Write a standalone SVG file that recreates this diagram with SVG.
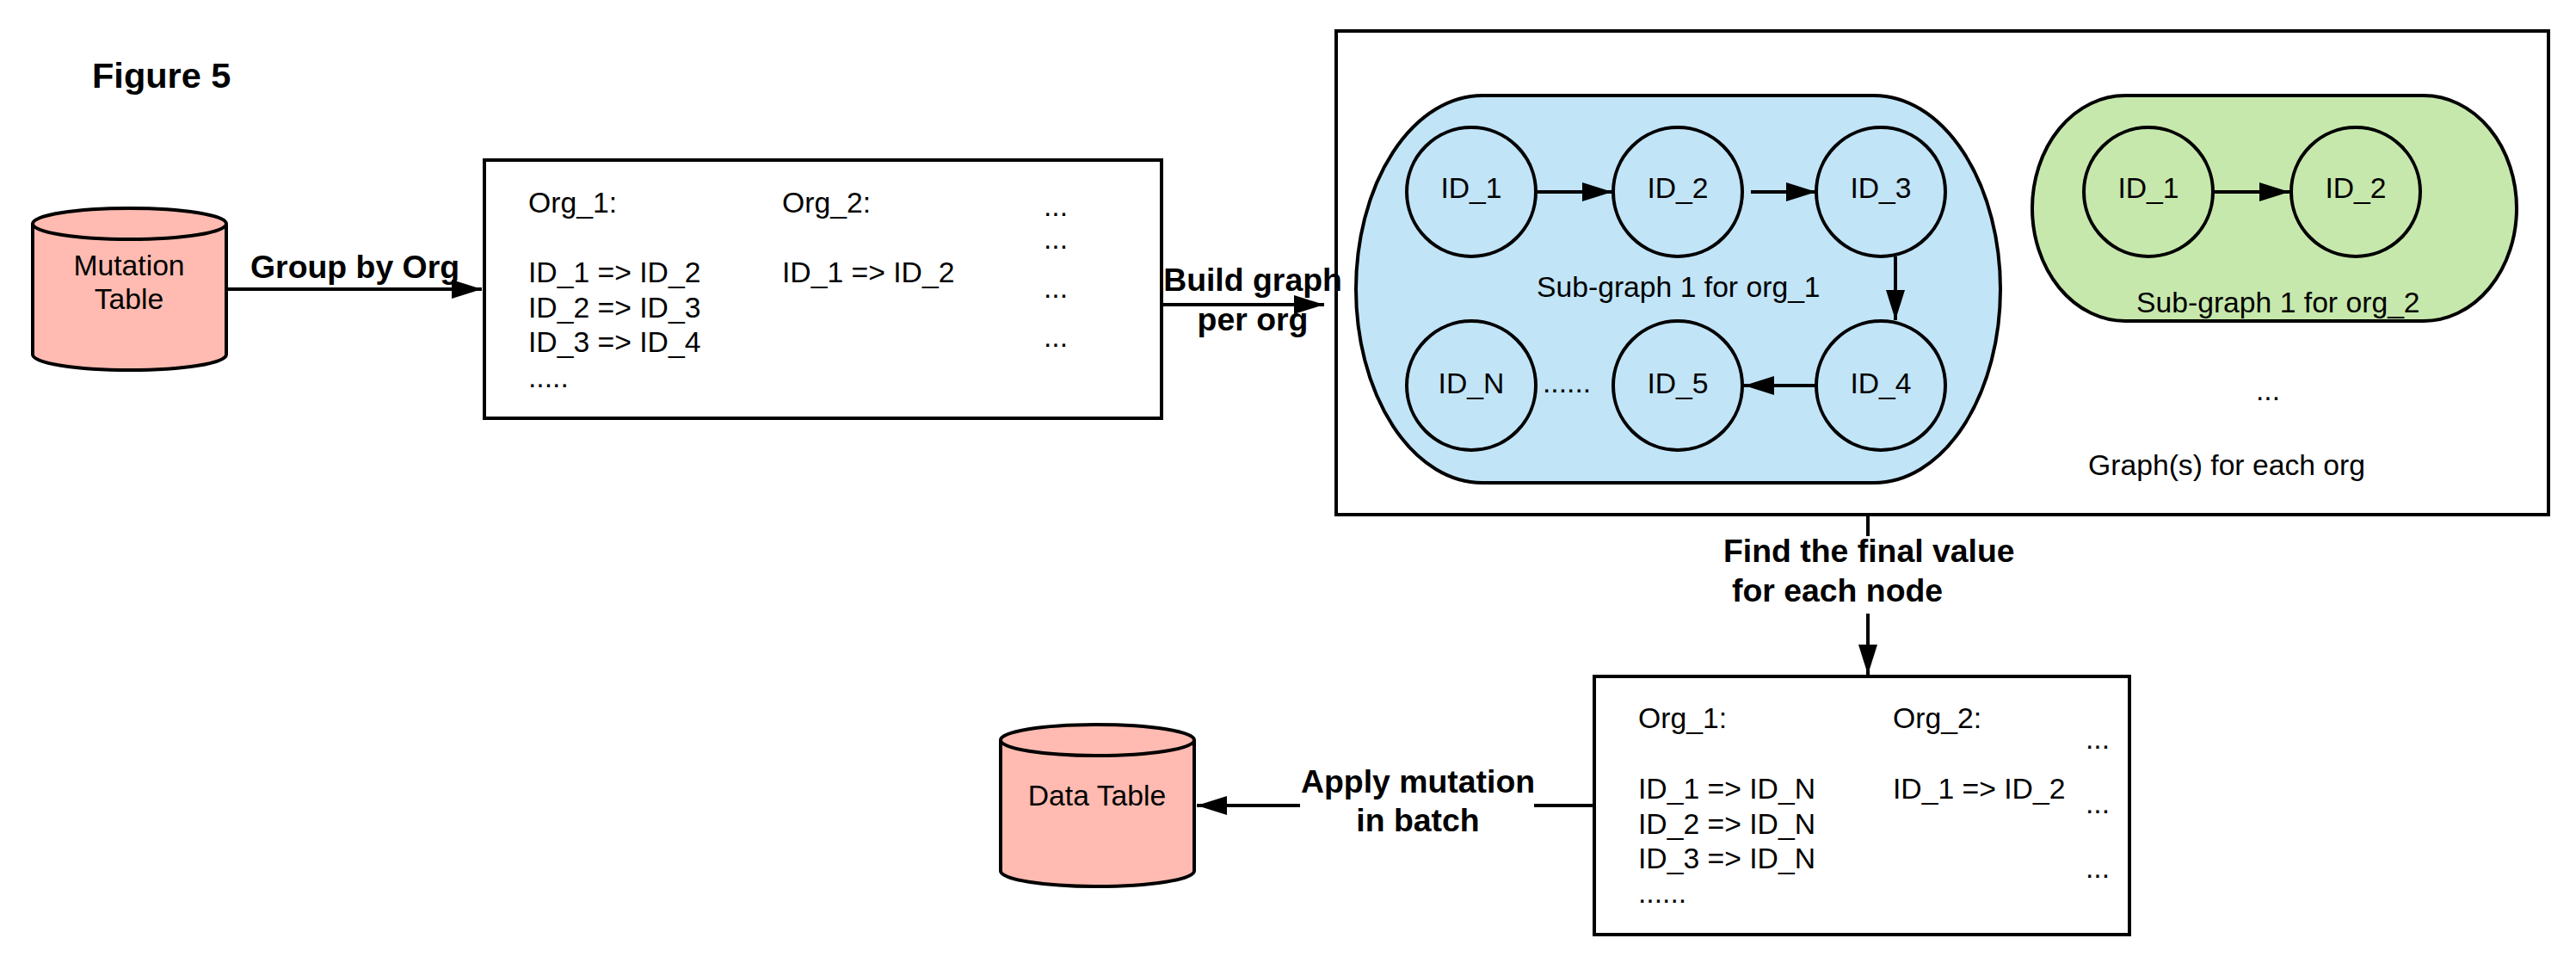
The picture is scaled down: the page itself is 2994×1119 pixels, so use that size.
<svg xmlns="http://www.w3.org/2000/svg" width="2994" height="1119" viewBox="0 0 2994 1119">
<style>
text{font-family:"Liberation Sans",Arial,sans-serif;font-size:33.700px;fill:#000}
.b{font-weight:bold;font-size:37.400px}
.m{text-anchor:middle}
.box{fill:#fff;stroke:#000;stroke-width:4}
.c{fill:#ffbbb1;stroke:#000;stroke-width:4}
.n{stroke:#000;stroke-width:4}
.blue{fill:#c1e4f7}
.green{fill:#c7e8ac}
.l{fill:none;stroke:#000;stroke-width:4}
</style>
<defs>
<marker id="a" markerUnits="userSpaceOnUse" markerWidth="36" markerHeight="24" refX="35" refY="12" orient="auto"><path d="M0 1L35 12L0 23Z" fill="#000"/></marker>
</defs>
<g id="title"><text x="107" y="102" style="font-weight:bold;font-size:41.500px">Figure 5</text></g>
<g id="mutation-table">
<path class="c" d="M38 260V412C38 422 88 430 150.500 430S263 422 263 412V260C263 250 213 242 150.500 242S38 250 38 260C38 270 88 278 150.500 278S263 270 263 260"/>
<text class="m" x="150" y="320">Mutation</text><text class="m" x="150" y="359">Table</text>
</g>
<g id="org-box">
<rect class="box" x="563" y="186" width="787" height="300"/>
<text x="614" y="247">Org_1:</text>
<text x="614" y="328">ID_1 =&gt; ID_2</text>
<text x="614" y="369">ID_2 =&gt; ID_3</text>
<text x="614" y="409">ID_3 =&gt; ID_4</text>
<text x="614" y="450">.....</text>
<text x="909" y="247">Org_2:</text>
<text x="909" y="328">ID_1 =&gt; ID_2</text>
<text x="1213" y="251">...</text>
<text x="1213" y="289">...</text>
<text x="1213" y="346">...</text>
<text x="1213" y="403">...</text>
</g>
<g id="graph-box">
<rect class="box" x="1553" y="36" width="1409" height="562"/>
<text x="2427" y="552">Graph(s) for each org</text>
<text class="m" x="2636" y="465">...</text>
</g>
<g id="subgraph-1">
<rect class="n blue" x="1576" y="111" width="749" height="450" rx="147" ry="225"/>
<text x="1786" y="345">Sub-graph 1 for org_1</text>
<text x="1793" y="456">......</text>
</g>
<g id="subgraph-2">
<rect class="n green" x="2362" y="111" width="563" height="262" rx="108" ry="131"/>
<text x="2483" y="363">Sub-graph 1 for org_2</text>
</g>
<g id="n1"><circle class="n blue" cx="1710" cy="223" r="75"/><text class="m" x="1710" y="230">ID_1</text></g>
<g id="n2"><circle class="n blue" cx="1950" cy="223" r="75"/><text class="m" x="1950" y="230">ID_2</text></g>
<g id="n3"><circle class="n blue" cx="2186" cy="223" r="75"/><text class="m" x="2186" y="230">ID_3</text></g>
<g id="n4"><circle class="n blue" cx="2186" cy="448" r="75"/><text class="m" x="2186" y="457">ID_4</text></g>
<g id="n5"><circle class="n blue" cx="1950" cy="448" r="75"/><text class="m" x="1950" y="457">ID_5</text></g>
<g id="nN"><circle class="n blue" cx="1710" cy="448" r="75"/><text class="m" x="1710" y="457">ID_N</text></g>
<g id="g1"><circle class="n green" cx="2497" cy="223" r="75"/><text class="m" x="2497" y="230">ID_1</text></g>
<g id="g2"><circle class="n green" cx="2738" cy="223" r="75"/><text class="m" x="2738" y="230">ID_2</text></g>
<g id="result-box">
<rect class="box" x="1853" y="786" width="622" height="300"/>
<text x="1904" y="846">Org_1:</text>
<text x="1904" y="928">ID_1 =&gt; ID_N</text>
<text x="1904" y="969">ID_2 =&gt; ID_N</text>
<text x="1904" y="1009">ID_3 =&gt; ID_N</text>
<text x="1904" y="1049">......</text>
<text x="2200" y="846">Org_2:</text>
<text x="2200" y="928">ID_1 =&gt; ID_2</text>
<text x="2424" y="870">...</text>
<text x="2424" y="945">...</text>
<text x="2424" y="1020">...</text>
</g>
<g id="data-table">
<path class="c" d="M1163 860V1012C1163 1022 1213 1030 1275 1030S1388 1022 1388 1012V860C1388 850 1338 842 1275 842S1163 850 1163 860C1163 870 1213 878 1275 878S1388 870 1388 860"/>
<text class="m" x="1275" y="936">Data Table</text>
</g>
<g id="connectors">
<path class="l" marker-end="url(#a)" d="M263 336H560"/>
<path class="l" marker-end="url(#a)" d="M1350 354H1539"/>
<path class="l" marker-end="url(#a)" d="M1787 223H1874"/>
<path class="l" marker-end="url(#a)" d="M2035 223H2111"/>
<path class="l" marker-end="url(#a)" d="M2203 298V372"/>
<path class="l" marker-end="url(#a)" d="M2110 448H2027"/>
<path class="l" marker-end="url(#a)" d="M2574 223H2661"/>
<path class="l" d="M2171 598V623"/>
<path class="l" marker-end="url(#a)" d="M2171 713V784"/>
<path class="l" d="M1853 936H1783"/>
<path class="l" marker-end="url(#a)" d="M1511 936H1391"/>
</g>
<g id="labels">
<text class="b" x="291" y="323">Group by Org</text>
<text class="b m" x="1456" y="338">Build graph</text>
<text class="b m" x="1456" y="384">per org</text>
<text class="b" x="2003" y="653">Find the final value</text>
<text class="b" x="2013" y="699">for each node</text>
<text class="b" x="1512" y="921">Apply mutation</text>
<text class="b m" x="1648" y="966">in batch</text>
</g>
</svg>
